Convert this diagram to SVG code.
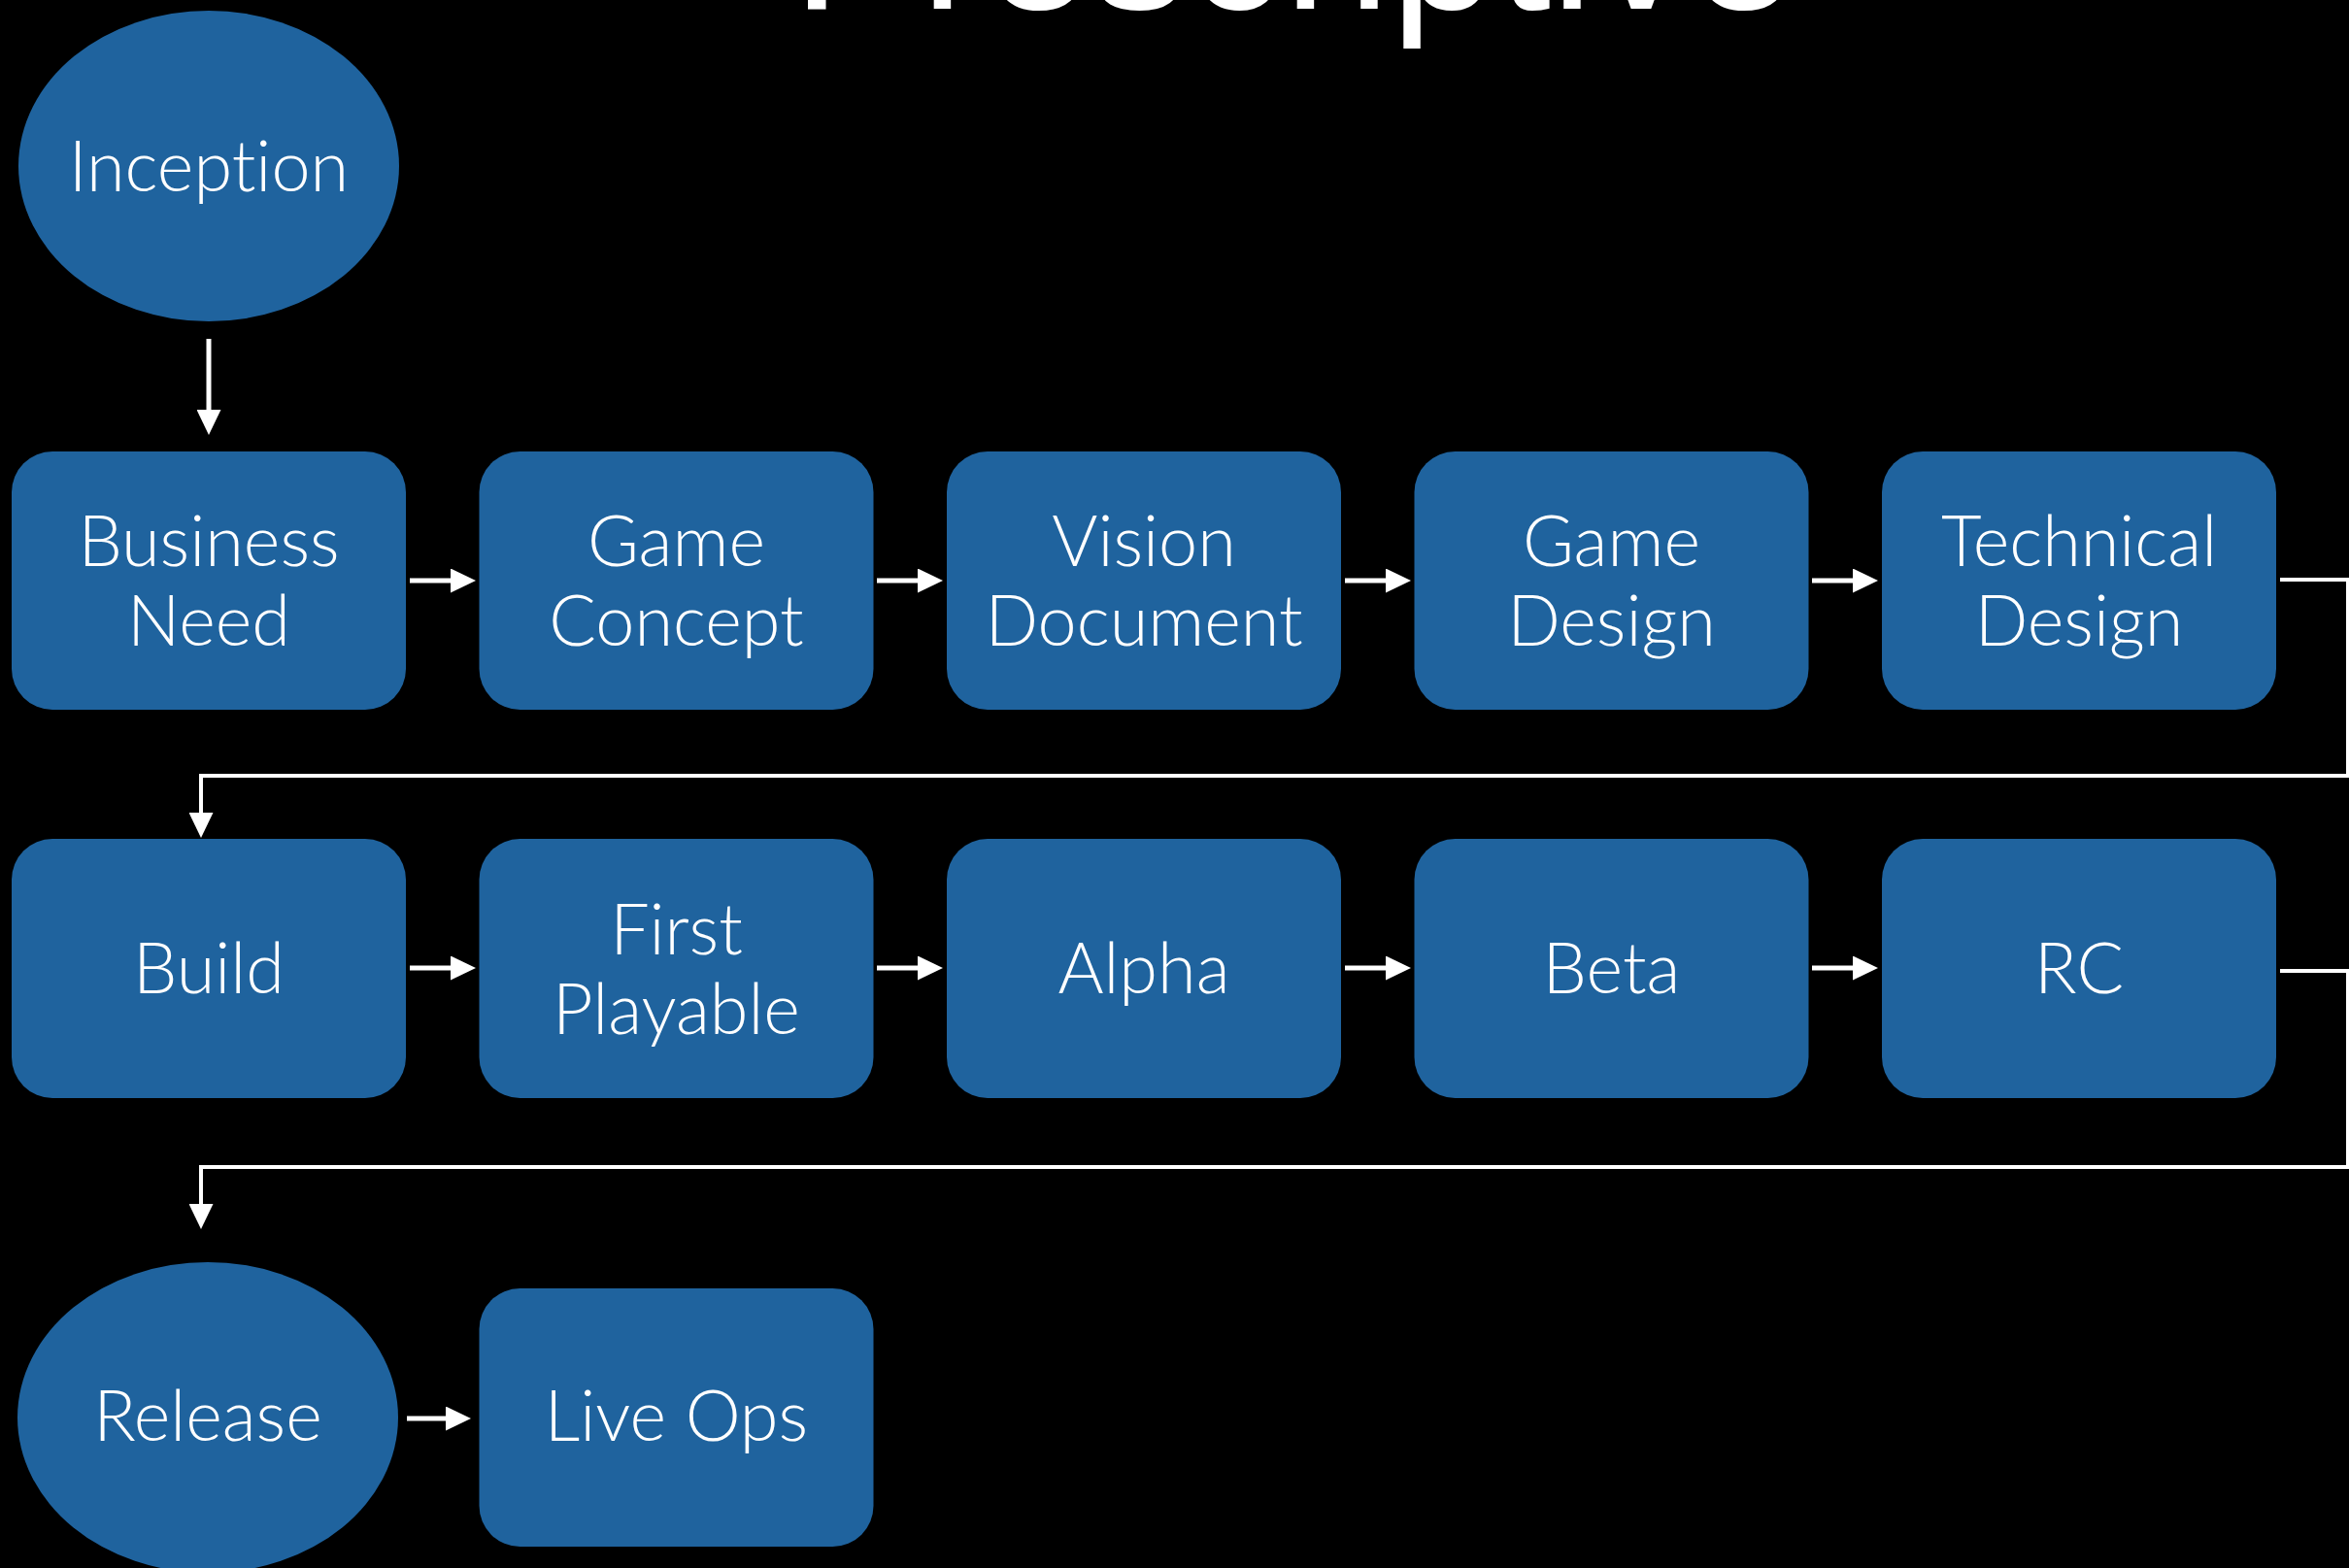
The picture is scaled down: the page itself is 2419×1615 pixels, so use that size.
<svg xmlns="http://www.w3.org/2000/svg" width="2419" height="1615" viewBox="0 0 2419 1615">
  <style>
    .bg { fill: #000; }
    .node { fill: #1f639e; }
    .label { fill: #fff; font-family: Lato, Roboto, "Liberation Sans", sans-serif; font-weight: 300; font-size: 72px; text-anchor: middle; font-variant-ligatures: none; font-feature-settings: "liga" 0; }
    .title { fill: #fff; font-family: "Liberation Sans", Arial, sans-serif; font-size: 198px; text-anchor: middle; }
    .wire { fill: none; stroke: #fff; stroke-width: 5; }
    .wire.long { stroke-width: 4; }
  </style>
  <defs>
    <marker id="head" viewBox="0 0 26 25" refX="0" refY="12.5" markerWidth="26" markerHeight="25" markerUnits="userSpaceOnUse" orient="auto">
      <path d="M0,0 L26,12.5 L0,25 z" fill="#fff"/>
    </marker>
  </defs>

  <rect class="bg" x="0" y="0" width="2419" height="1615"/>

  <!-- heading, mostly above the top edge -->
  <text class="title" x="1333" y="9">Prescriptive</text>

  <!-- connectors -->
  <g id="connectors">
    <!-- Inception down to Business Need -->
    <path class="wire" d="M215,349 V422" marker-end="url(#head)"/>
    <!-- row 1 -->
    <path class="wire" d="M422,598 H464" marker-end="url(#head)"/>
    <path class="wire" d="M903,598 H945" marker-end="url(#head)"/>
    <path class="wire" d="M1385,598 H1427" marker-end="url(#head)"/>
    <path class="wire" d="M1866,598 H1908" marker-end="url(#head)"/>
    <!-- Technical Design wraps to Build -->
    <path class="wire long" d="M2348,597 H2418 V799 H207 V837" marker-end="url(#head)"/>
    <!-- row 2 -->
    <path class="wire" d="M422,997 H464" marker-end="url(#head)"/>
    <path class="wire" d="M903,997 H945" marker-end="url(#head)"/>
    <path class="wire" d="M1385,997 H1427" marker-end="url(#head)"/>
    <path class="wire" d="M1866,997 H1908" marker-end="url(#head)"/>
    <!-- RC wraps to Release -->
    <path class="wire long" d="M2348,1000 H2418 V1202 H207 V1240" marker-end="url(#head)"/>
    <!-- Release to Live Ops -->
    <path class="wire" d="M419,1461 H459" marker-end="url(#head)"/>
  </g>

  <!-- row 0 -->
  <g id="inception">
    <ellipse class="node" cx="215" cy="171" rx="196" ry="160"/>
    <text class="label" x="215" y="197">Inception</text>
  </g>

  <!-- row 1 -->
  <g id="business-need">
    <rect class="node" x="12" y="465" width="406" height="266" rx="42"/>
    <text class="label" x="215" y="583">Business</text>
    <text class="label" x="215" y="665">Need</text>
  </g>
  <g id="game-concept">
    <rect class="node" x="493.5" y="465" width="406" height="266" rx="42"/>
    <text class="label" x="696.5" y="583">Game</text>
    <text class="label" x="696.5" y="665">Concept</text>
  </g>
  <g id="vision-document">
    <rect class="node" x="975" y="465" width="406" height="266" rx="42"/>
    <text class="label" x="1178" y="583">Vision</text>
    <text class="label" x="1178" y="665">Document</text>
  </g>
  <g id="game-design">
    <rect class="node" x="1456.5" y="465" width="406" height="266" rx="42"/>
    <text class="label" x="1659.5" y="583">Game</text>
    <text class="label" x="1659.5" y="665">Design</text>
  </g>
  <g id="technical-design">
    <rect class="node" x="1938" y="465" width="406" height="266" rx="42"/>
    <text class="label" x="2141" y="583">Technical</text>
    <text class="label" x="2141" y="665">Design</text>
  </g>

  <!-- row 2 -->
  <g id="build">
    <rect class="node" x="12" y="864" width="406" height="267" rx="42"/>
    <text class="label" x="215" y="1023">Build</text>
  </g>
  <g id="first-playable">
    <rect class="node" x="493.5" y="864" width="406" height="267" rx="42"/>
    <text class="label" x="696.5" y="983">First</text>
    <text class="label" x="696.5" y="1065">Playable</text>
  </g>
  <g id="alpha">
    <rect class="node" x="975" y="864" width="406" height="267" rx="42"/>
    <text class="label" x="1178" y="1023">Alpha</text>
  </g>
  <g id="beta">
    <rect class="node" x="1456.5" y="864" width="406" height="267" rx="42"/>
    <text class="label" x="1659.5" y="1023">Beta</text>
  </g>
  <g id="rc">
    <rect class="node" x="1938" y="864" width="406" height="267" rx="42"/>
    <text class="label" x="2141" y="1023">RC</text>
  </g>

  <!-- row 3 -->
  <g id="release">
    <ellipse class="node" cx="214" cy="1460" rx="196" ry="160"/>
    <text class="label" x="214" y="1484">Release</text>
  </g>
  <g id="live-ops">
    <rect class="node" x="493.5" y="1327" width="406" height="266" rx="42"/>
    <text class="label" x="696.5" y="1484">Live Ops</text>
  </g>
</svg>
